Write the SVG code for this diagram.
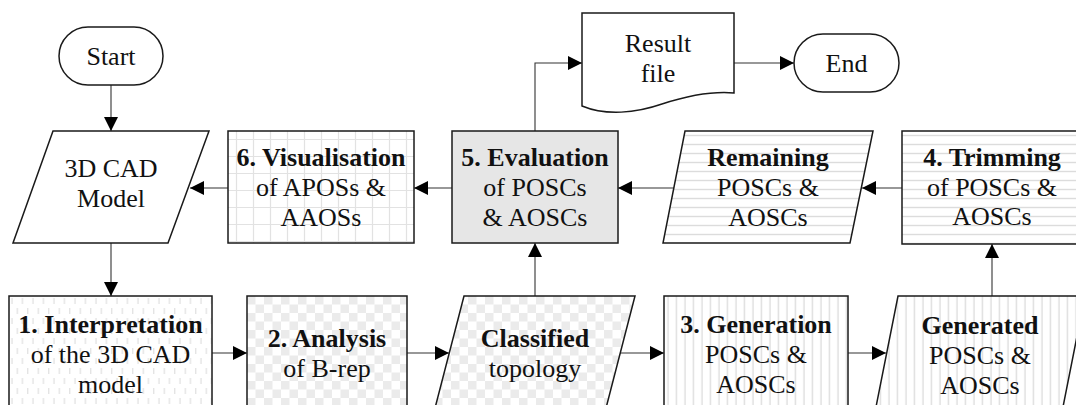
<svg xmlns="http://www.w3.org/2000/svg" width="1076" height="405" viewBox="0 0 1076 405">
<style>
.shape{stroke:#1a1a1a;stroke-width:1.5}
.t{font-family:"Liberation Serif","LiberationSerif","Noto Serif","DejaVu Serif","FreeSerif","Times New Roman",serif;font-size:26px;fill:#111;text-anchor:middle}
.b{font-weight:bold}
.conn{fill:none;stroke:#333;stroke-width:1.1}
</style>
<defs>
<marker id="arr" markerUnits="userSpaceOnUse" markerWidth="14" markerHeight="14" refX="14" refY="7" orient="auto">
<path d="M0,0 L14,7 L0,14 Z" fill="#000"/>
</marker>
<pattern id="grid" patternUnits="userSpaceOnUse" width="17" height="17" x="228" y="131">
<rect width="17" height="17" fill="#fff"/>
<path d="M8.5,0 V17 M0,8.5 H17" stroke="#e2e2e2" stroke-width="1.2"/>
</pattern>
<pattern id="dash" patternUnits="userSpaceOnUse" width="10.5" height="20" x="9" y="296">
<rect width="10.5" height="20" fill="#fff"/>
<path d="M3,2 V8 M8.25,12 V18" stroke="#e0e0e0" stroke-width="1.2"/>
</pattern>
<pattern id="check" patternUnits="userSpaceOnUse" width="17" height="17" x="247" y="296">
<rect width="17" height="17" fill="#fff"/>
<rect width="8.5" height="8.5" fill="#ebebeb"/>
<rect x="8.5" y="8.5" width="8.5" height="8.5" fill="#ebebeb"/>
</pattern>
<pattern id="vlines" patternUnits="userSpaceOnUse" width="8.5" height="10" x="664" y="296">
<rect width="8.5" height="10" fill="#fff"/>
<path d="M4,0 V10" stroke="#dcdcdc" stroke-width="1.3"/>
</pattern>
<pattern id="hlines" patternUnits="userSpaceOnUse" width="10" height="9" x="0" y="131">
<rect width="10" height="9" fill="#fff"/>
<path d="M0,4.5 H10" stroke="#dcdcdc" stroke-width="1.4"/>
</pattern>
</defs>

<g id="connectors">
<path class="conn" d="M111,85 V131" marker-end="url(#arr)"/>
<path class="conn" d="M111,243 V296" marker-end="url(#arr)"/>
<path class="conn" d="M212,353 H247" marker-end="url(#arr)"/>
<path class="conn" d="M407,353 H449" marker-end="url(#arr)"/>
<path class="conn" d="M620,353 H664" marker-end="url(#arr)"/>
<path class="conn" d="M848,353 H886" marker-end="url(#arr)"/>
<path class="conn" d="M992,296 V244" marker-end="url(#arr)"/>
<path class="conn" d="M902,188 H862" marker-end="url(#arr)"/>
<path class="conn" d="M674,188 H618" marker-end="url(#arr)"/>
<path class="conn" d="M535,296 V243" marker-end="url(#arr)"/>
<path class="conn" d="M452,188 H414" marker-end="url(#arr)"/>
<path class="conn" d="M228,188 H190" marker-end="url(#arr)"/>
<path class="conn" d="M535,131 V63 H582" marker-end="url(#arr)"/>
<path class="conn" d="M734,63 H794" marker-end="url(#arr)"/>
</g>

<g id="start">
<rect class="shape" x="59" y="27" width="104" height="58" rx="29" fill="#fff"/>
<text class="t" x="111" y="65">Start</text>
</g>

<g id="model">
<path class="shape" d="M53,131 H209 L168,243 H13 Z" fill="#fff"/>
<text class="t" x="111" y="177">3D CAD</text>
<text class="t" x="111" y="207">Model</text>
</g>

<g id="interpretation">
<rect class="shape" x="9" y="296" width="203" height="116" fill="url(#dash)"/>
<text class="t b" x="110.5" y="333">1. Interpretation</text>
<text class="t" x="110.5" y="363">of the 3D CAD</text>
<text class="t" x="110.5" y="393">model</text>
</g>

<g id="analysis">
<rect class="shape" x="247" y="296" width="160" height="116" fill="url(#check)"/>
<text class="t b" x="327" y="347">2. Analysis</text>
<text class="t" x="327" y="377">of B-rep</text>
</g>

<g id="classified">
<path class="shape" d="M464,296 H635 L605,412 H434 Z" fill="url(#check)"/>
<text class="t b" x="535" y="347">Classified</text>
<text class="t" x="535" y="377">topology</text>
</g>

<g id="generation">
<rect class="shape" x="664" y="296" width="184" height="116" fill="url(#vlines)"/>
<text class="t b" x="756" y="333">3. Generation</text>
<text class="t" x="756" y="363">POSCs &amp;</text>
<text class="t" x="756" y="393">AOSCs</text>
</g>

<g id="generated">
<path class="shape" d="M898,296 H1085 L1062,412 H875 Z" fill="url(#vlines)"/>
<text class="t b" x="980" y="334">Generated</text>
<text class="t" x="980" y="364">POSCs &amp;</text>
<text class="t" x="980" y="394">AOSCs</text>
</g>

<g id="trimming">
<rect class="shape" x="902" y="131" width="180" height="113" fill="url(#hlines)"/>
<text class="t b" x="992" y="166">4. Trimming</text>
<text class="t" x="992" y="196">of POSCs &amp;</text>
<text class="t" x="992" y="225">AOSCs</text>
</g>

<g id="remaining">
<path class="shape" d="M685,131 H873 L850,243 H663 Z" fill="url(#hlines)"/>
<text class="t b" x="768" y="166">Remaining</text>
<text class="t" x="768" y="196">POSCs &amp;</text>
<text class="t" x="768" y="226">AOSCs</text>
</g>

<g id="evaluation">
<rect class="shape" x="452" y="131" width="166" height="112" fill="#e6e6e6"/>
<text class="t b" x="535" y="166">5. Evaluation</text>
<text class="t" x="535" y="196">of POSCs</text>
<text class="t" x="535" y="226">&amp; AOSCs</text>
</g>

<g id="visualisation">
<rect class="shape" x="228" y="131" width="186" height="112" fill="url(#grid)"/>
<text class="t b" x="321" y="166">6. Visualisation</text>
<text class="t" x="321" y="196">of APOSs &amp;</text>
<text class="t" x="321" y="226">AAOSs</text>
</g>

<g id="result">
<path class="shape" d="M582,13 H734 V93 C712,91 690,95 662,104 C636,113 606,116 582,106 Z" fill="#fff"/>
<text class="t" x="658" y="52">Result</text>
<text class="t" x="658" y="82">file</text>
</g>

<g id="end">
<rect class="shape" x="794" y="34" width="105" height="58" rx="29" fill="#fff"/>
<text class="t" x="846.5" y="72">End</text>
</g>
</svg>
